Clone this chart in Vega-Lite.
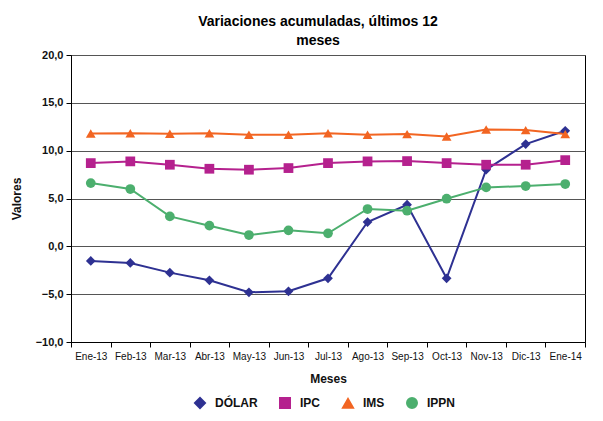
{
  "$schema": "https://vega.github.io/schema/vega-lite/v6.json",
  "width": 514,
  "height": 287,
  "autosize": "none",
  "padding": {"left": 71, "top": 55, "right": 18, "bottom": 79},
  "background": "white",
  "title": {
    "text": ["Variaciones acumuladas, últimos 12", "meses"],
    "fontSize": 14,
    "fontWeight": "bold",
    "font": "Liberation Sans",
    "color": "#000",
    "anchor": "middle",
    "dx": -10,
    "lineHeight": 19,
    "offset": 1
  },
  "data": {
    "values": [
      {"serie": "DÓLAR", "mes": "Ene-13", "valor": -1.53},
      {"serie": "DÓLAR", "mes": "Feb-13", "valor": -1.74},
      {"serie": "DÓLAR", "mes": "Mar-13", "valor": -2.75},
      {"serie": "DÓLAR", "mes": "Abr-13", "valor": -3.55},
      {"serie": "DÓLAR", "mes": "May-13", "valor": -4.8},
      {"serie": "DÓLAR", "mes": "Jun-13", "valor": -4.7},
      {"serie": "DÓLAR", "mes": "Jul-13", "valor": -3.34},
      {"serie": "DÓLAR", "mes": "Ago-13", "valor": 2.54},
      {"serie": "DÓLAR", "mes": "Sep-13", "valor": 4.35},
      {"serie": "DÓLAR", "mes": "Oct-13", "valor": -3.34},
      {"serie": "DÓLAR", "mes": "Nov-13", "valor": 8.01},
      {"serie": "DÓLAR", "mes": "Dic-13", "valor": 10.69},
      {"serie": "DÓLAR", "mes": "Ene-14", "valor": 12.08},
      {"serie": "IPC", "mes": "Ene-13", "valor": 8.7},
      {"serie": "IPC", "mes": "Feb-13", "valor": 8.88},
      {"serie": "IPC", "mes": "Mar-13", "valor": 8.53},
      {"serie": "IPC", "mes": "Abr-13", "valor": 8.11},
      {"serie": "IPC", "mes": "May-13", "valor": 8.01},
      {"serie": "IPC", "mes": "Jun-13", "valor": 8.18},
      {"serie": "IPC", "mes": "Jul-13", "valor": 8.7},
      {"serie": "IPC", "mes": "Ago-13", "valor": 8.88},
      {"serie": "IPC", "mes": "Sep-13", "valor": 8.91},
      {"serie": "IPC", "mes": "Oct-13", "valor": 8.7},
      {"serie": "IPC", "mes": "Nov-13", "valor": 8.53},
      {"serie": "IPC", "mes": "Dic-13", "valor": 8.53},
      {"serie": "IPC", "mes": "Ene-14", "valor": 9.01},
      {"serie": "IMS", "mes": "Ene-13", "valor": 11.8},
      {"serie": "IMS", "mes": "Feb-13", "valor": 11.83},
      {"serie": "IMS", "mes": "Mar-13", "valor": 11.76},
      {"serie": "IMS", "mes": "Abr-13", "valor": 11.83},
      {"serie": "IMS", "mes": "May-13", "valor": 11.66},
      {"serie": "IMS", "mes": "Jun-13", "valor": 11.66},
      {"serie": "IMS", "mes": "Jul-13", "valor": 11.83},
      {"serie": "IMS", "mes": "Ago-13", "valor": 11.66},
      {"serie": "IMS", "mes": "Sep-13", "valor": 11.73},
      {"serie": "IMS", "mes": "Oct-13", "valor": 11.49},
      {"serie": "IMS", "mes": "Nov-13", "valor": 12.22},
      {"serie": "IMS", "mes": "Dic-13", "valor": 12.15},
      {"serie": "IMS", "mes": "Ene-14", "valor": 11.73},
      {"serie": "IPPN", "mes": "Ene-13", "valor": 6.61},
      {"serie": "IPPN", "mes": "Feb-13", "valor": 5.99},
      {"serie": "IPPN", "mes": "Mar-13", "valor": 3.13},
      {"serie": "IPPN", "mes": "Abr-13", "valor": 2.16},
      {"serie": "IPPN", "mes": "May-13", "valor": 1.18},
      {"serie": "IPPN", "mes": "Jun-13", "valor": 1.67},
      {"serie": "IPPN", "mes": "Jul-13", "valor": 1.36},
      {"serie": "IPPN", "mes": "Ago-13", "valor": 3.9},
      {"serie": "IPPN", "mes": "Sep-13", "valor": 3.72},
      {"serie": "IPPN", "mes": "Oct-13", "valor": 4.98},
      {"serie": "IPPN", "mes": "Nov-13", "valor": 6.16},
      {"serie": "IPPN", "mes": "Dic-13", "valor": 6.3},
      {"serie": "IPPN", "mes": "Ene-14", "valor": 6.51}
    ]
  },
  "encoding": {
    "x": {
      "field": "mes",
      "type": "nominal",
      "bandPosition": 0.5,
      "sort": ["Ene-13","Feb-13","Mar-13","Abr-13","May-13","Jun-13","Jul-13","Ago-13","Sep-13","Oct-13","Nov-13","Dic-13","Ene-14"],
      "scale": {"type": "band", "paddingInner": 0, "paddingOuter": 0},
      "axis": {
        "title": "Meses",
        "labelAngle": 0,
        "tickBand": "extent",
        "labelFontSize": 10,
        "labelPadding": 4,
        "tickSize": 5,
        "titlePadding": 12,
        "grid": false
      }
    },
    "y": {
      "field": "valor",
      "type": "quantitative",
      "scale": {"domain": [-10, 20], "nice": false, "zero": false},
      "axis": {
        "title": "Valores",
        "values": [-10, -5, 0, 5, 10, 15, 20],
        "labelExpr": "replace(format(datum.value, '.1f'), '.', ',')",
        "labelFontSize": 11,
        "labelFontWeight": "bold",
        "tickSize": 5,
        "labelPadding": 3,
        "titlePadding": 12,
        "grid": true,
        "gridColor": "#555",
        "gridWidth": 1
      }
    },
    "color": {
      "field": "serie",
      "type": "nominal",
      "sort": ["DÓLAR", "IPC", "IMS", "IPPN"],
      "scale": {
        "domain": ["DÓLAR", "IPC", "IMS", "IPPN"],
        "range": ["#2E3192", "#B5218E", "#F26522", "#4CAF6E"]
      },
      "legend": {
        "title": null,
        "orient": "none",
        "legendX": 123,
        "legendY": 342,
        "direction": "horizontal",
        "labelFontSize": 12,
        "labelFontWeight": "bold",
        "labelColor": "#111",
        "symbolSize": 100,
        "columnPadding": 18,
        "labelOffset": 9
      }
    }
  },
  "layer": [
    {
      "mark": {"type": "line"},
      "encoding": {
        "strokeWidth": {
          "field": "serie",
          "type": "nominal",
          "scale": {"domain": ["DÓLAR", "IPC", "IMS", "IPPN"], "range": [2, 2, 1.2, 2]},
          "legend": null
        }
      }
    },
    {
      "mark": {"type": "point", "filled": true, "opacity": 1, "size": 95},
      "encoding": {
        "shape": {
          "field": "serie",
          "type": "nominal",
          "scale": {"domain": ["DÓLAR", "IPC", "IMS", "IPPN"], "range": ["diamond", "square", "triangle-up", "circle"]},
          "legend": null
        }
      }
    }
  ],
  "config": {
    "font": "Liberation Sans",
    "view": {"stroke": "#000", "strokeWidth": 1},
    "axis": {
      "domainColor": "#000",
      "tickColor": "#000",
      "labelColor": "#111",
      "titleColor": "#111",
      "titleFontSize": 12,
      "titleFontWeight": "bold",
      "labelFont": "Liberation Sans",
      "titleFont": "Liberation Sans"
    },
    "legend": {"labelFont": "Liberation Sans"}
  }
}
